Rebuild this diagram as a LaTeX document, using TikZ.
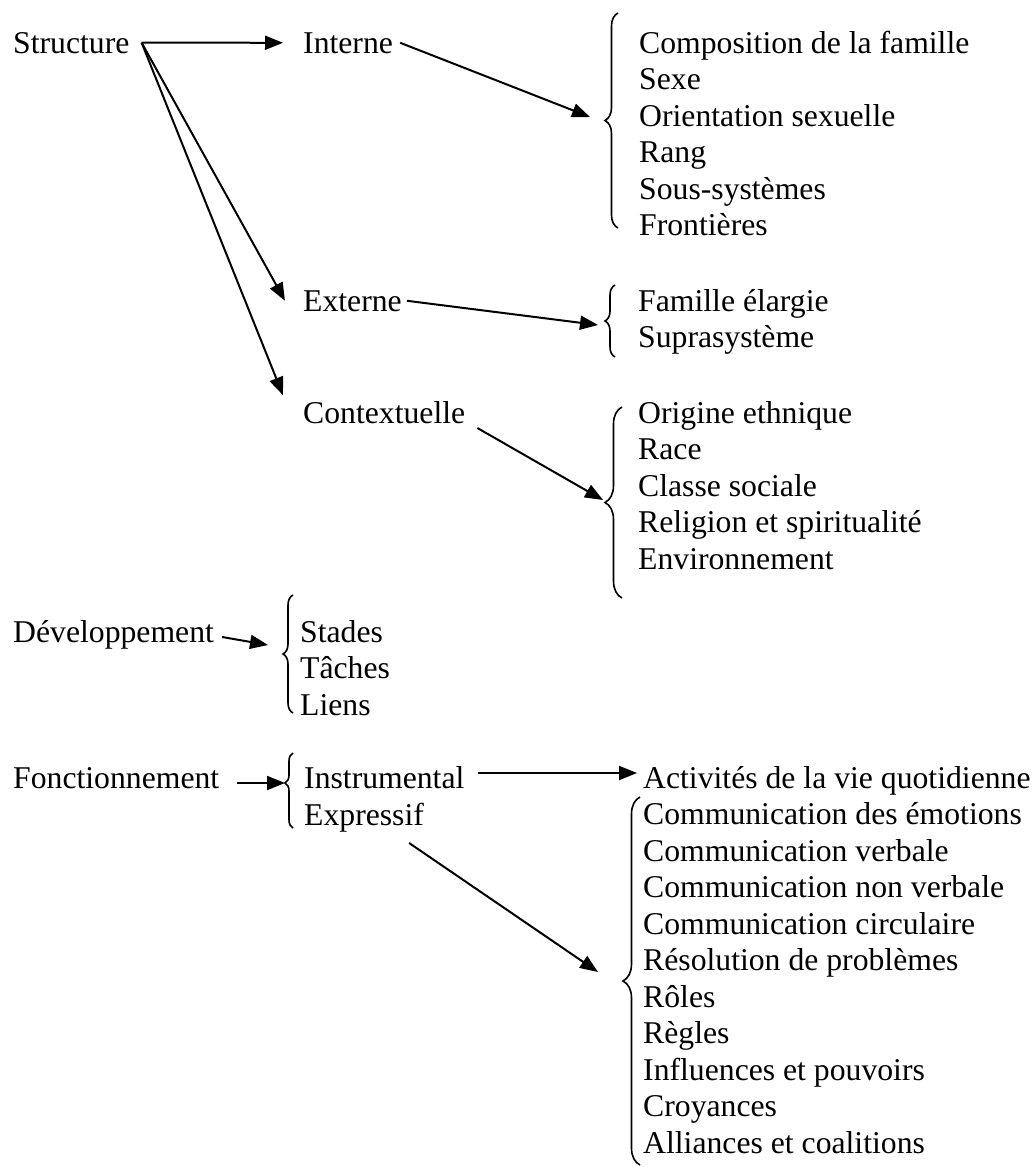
\documentclass[tikz,border=0pt]{standalone}
\usepackage{fontspec}
\setmainfont{Liberation Serif}
\usetikzlibrary{arrows.meta, decorations.pathreplacing}
\tikzset{
  lbl/.style={anchor=base west, inner sep=0pt, font=\fontsize{31.7}{36.5}\selectfont},
  arr/.style={-{Triangle[length=18pt,width=14pt]}, line width=2pt},
  brc/.style={decorate, line width=1.6pt, decoration={brace, amplitude=#1}},
}
\begin{document}
\begin{tikzpicture}[x=1pt, y=-1pt]
  \useasboundingbox (0,0) rectangle (1033,1167);
  % main headings
  \node[lbl] (struct) at (13,53) {Structure};
  \node[lbl] (dev) at (13,642) {Développement};
  \node[lbl] (fonct) at (13,788) {Fonctionnement};
  % structure branches
  \node[lbl] (interne) at (303,53) {Interne};
  \node[lbl] (externe) at (303,311) {Externe};
  \node[lbl] (context) at (303,423) {Contextuelle};
  % lists
  \foreach \txt [count=\i] in {Composition de la famille, Sexe, Orientation sexuelle, Rang, Sous-systèmes, Frontières}
    \node[lbl] (int\i) at (639,{53+36.5*(\i-1)}) {\txt};
  \foreach \txt [count=\i] in {Famille élargie, Suprasystème}
    \node[lbl] (ext\i) at (638,{311+36.5*(\i-1)}) {\txt};
  \foreach \txt [count=\i] in {Origine ethnique, Race, Classe sociale, Religion et spiritualité, Environnement}
    \node[lbl] (ctx\i) at (638,{423+36.5*(\i-1)}) {\txt};
  \foreach \txt [count=\i] in {Stades, Tâches, Liens}
    \node[lbl] (dev\i) at (300,{642+36.5*(\i-1)}) {\txt};
  \node[lbl] (instr) at (304,788) {Instrumental};
  \node[lbl] (expr) at (304,825) {Expressif};
  \foreach \txt [count=\i] in {Activités de la vie quotidienne, Communication des émotions, Communication verbale, Communication non verbale, Communication circulaire, Résolution de problèmes, Rôles, Règles, Influences et pouvoirs, Croyances, Alliances et coalitions}
    \node[lbl] (act\i) at (643,{788+36.5*(\i-1)}) {\txt};
  % braces (drawn bottom to top)
  \draw[brc=13] (618,228) -- (618,13);
  \draw[brc=10] (615,357) -- (615,285);
  \draw[brc=17] (622,598) -- (622,407);
  \draw[brc=10] (293,713) -- (293,595);
  \draw[brc=8, decoration={aspect=0.6}] (293,828) -- (293,753);
  \draw[brc=17] (640,1165) -- (640,797);
  % arrow tips at the braces
  \coordinate (tInt) at (590,117);
  \coordinate (tExt) at (598,325);
  \coordinate (tCtx) at (603,500);
  \coordinate (tDev) at (268,645);
  \coordinate (tFon) at (285,783);
  \coordinate (tExp) at (598,972);
  % connectors
  \draw[arr] ([xshift=12pt]struct.east) -- ([xshift=-20pt]interne.west);
  \draw[arr] ([xshift=12pt]struct.east) -- ([xshift=-18pt]externe.west);
  \draw[arr] ([xshift=12pt]struct.east) -- ([xshift=-20pt,yshift=17pt]context.west);
  \draw[arr] ([xshift=7pt]interne.east) -- (tInt);
  \draw[arr] ([xshift=5pt]externe.east) -- (tExt);
  \draw[arr] ([xshift=12pt,yshift=-5pt]context.base east) -- (tCtx);
  \draw[arr] ([xshift=8pt,yshift=5pt]dev.base east) -- (tDev);
  \draw[arr] ([xshift=18pt,yshift=5pt]fonct.base east) -- (tFon);
  \draw[arr] ([xshift=13pt,yshift=15pt]instr.base east) -- ([xshift=-6pt,yshift=15pt]act1.base west);
  \draw[arr] ([xshift=-15pt,yshift=-18pt]expr.base east) -- (tExp);
\end{tikzpicture}
\end{document}
